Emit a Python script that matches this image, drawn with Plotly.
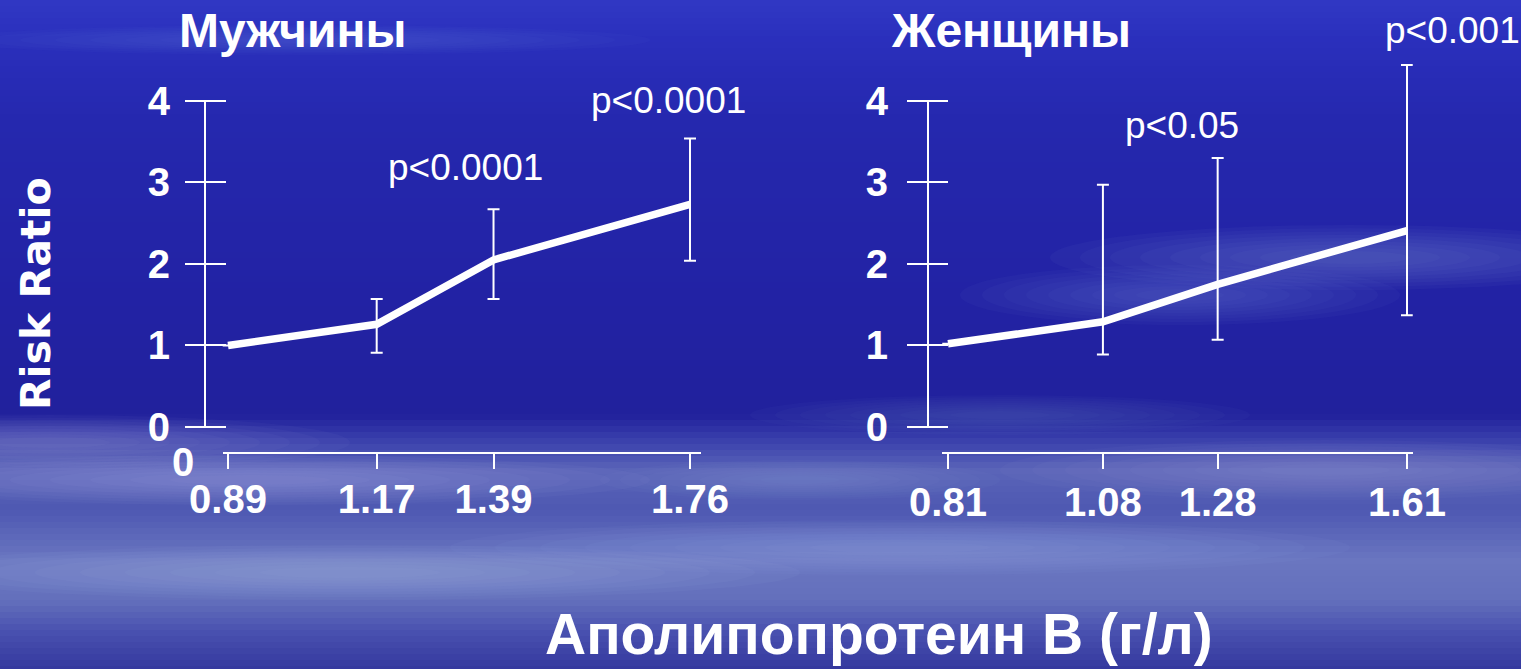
import plotly.graph_objects as go

# ---------------- data ----------------
men_apob = [0.89, 1.17, 1.39, 1.76]
men_rr = [1.0, 1.26, 2.05, 2.73]
men_hi = [None, 1.57, 2.67, 3.54]
men_lo = [None, 0.91, 1.57, 2.04]

women_apob = [0.81, 1.08, 1.28, 1.61]
women_rr = [1.02, 1.29, 1.75, 2.41]
women_hi = [None, 2.97, 3.30, 4.44]
women_lo = [None, 0.89, 1.07, 1.37]

y_ticks = [0, 1, 2, 3, 4]
men_tick_labels = ["0.89", "1.17", "1.39", "1.76"]
women_tick_labels = ["0.81", "1.08", "1.28", "1.61"]

p_men = ["p<0.0001", "p<0.0001"]
p_women = ["p<0.05", "p<0.001"]

# ---------------- geometry helpers ----------------
W, H = 1521, 669
FONT = "Liberation Sans, Arial, sans-serif"


def px(x):
    return x / W


def py(y):
    return 1 - y / H


def up(hi, v):
    return [None if h is None else h - c for h, c in zip(hi, v)]


def down(lo, v):
    return [None if l is None else c - l for l, c in zip(lo, v)]


fig = go.Figure()

err_style = dict(type="data", symmetric=False, color="white", thickness=2, width=6)

fig.add_trace(go.Scatter(
    x=men_apob, y=men_rr, mode="lines", xaxis="x", yaxis="y",
    line=dict(color="white", width=7.5), showlegend=False, hoverinfo="skip",
    error_y=dict(array=up(men_hi, men_rr), arrayminus=down(men_lo, men_rr), **err_style),
))
fig.add_trace(go.Scatter(
    x=women_apob, y=women_rr, mode="lines", xaxis="x2", yaxis="y2",
    line=dict(color="white", width=7.5), showlegend=False, hoverinfo="skip",
    error_y=dict(array=up(women_hi, women_rr), arrayminus=down(women_lo, women_rr), **err_style),
))

# ---------------- background (decorative sky) ----------------
shapes = []


def hex2rgb(h):
    h = h.lstrip("#")
    return [int(h[i:i + 2], 16) for i in (0, 2, 4)]


stops = [(0, "#3038c4"), (40, "#2a2fbc"), (120, "#2528ae"), (300, "#2222a4"),
         (415, "#21219c"), (440, "#3a40ac"), (470, "#5a64b8"), (510, "#4e58b2"),
         (560, "#6a76c0"), (600, "#6470bc"), (630, "#4a52b0"), (669, "#34389e")]
step = 6
for yy in range(0, H, step):
    for (a, ca), (b, cb) in zip(stops[:-1], stops[1:]):
        if a <= yy + step / 2 <= b:
            t = (yy + step / 2 - a) / (b - a)
            r1, r2 = hex2rgb(ca), hex2rgb(cb)
            col = "rgb(%d,%d,%d)" % tuple(round(u + (v - u) * t) for u, v in zip(r1, r2))
            break
    shapes.append(dict(type="rect", xref="paper", yref="paper", x0=0, x1=1,
                       y0=py(yy + step), y1=py(yy), fillcolor=col, line_width=0,
                       layer="below"))

clouds = [
    (-150, 455, 650, 505, "#a8b4e8"),
    (-100, 545, 800, 600, "#b0bcec"),
    (450, 520, 1350, 575, "#a0ace2"),
    (1000, 440, 1650, 500, "#98a4de"),
    (1050, 225, 1650, 290, "#8c98dc"),
    (960, 265, 1400, 325, "#7c88d0"),
    (750, 395, 1250, 435, "#6a76c6"),
    (-50, 25, 650, 55, "#6a72da"),
    (-250, 415, 350, 470, "#9aa6e0"),
    (600, 460, 1000, 500, "#8894d4"),
]
for x0, y0, x1, y1, c in clouds:
    cx, cy = (x0 + x1) / 2, (y0 + y1) / 2
    hw, hh = (x1 - x0) / 2, (y1 - y0) / 2
    for k in range(9):
        f = 1 - k * 0.1
        shapes.append(dict(type="circle", xref="paper", yref="paper",
                           x0=px(cx - hw * f), x1=px(cx + hw * f),
                           y0=py(cy + hh * f), y1=py(cy - hh * f),
                           fillcolor=c, opacity=0.05, line_width=0, layer="below"))

# y-axis spines (drawn only between 0 and 4 as in the original)
shapes.append(dict(type="line", xref="paper", yref="y", x0=px(205), x1=px(205),
                   y0=y_ticks[0], y1=y_ticks[-1], line=dict(color="white", width=2)))
shapes.append(dict(type="line", xref="paper", yref="y2", x0=px(928), x1=px(928),
                   y0=y_ticks[0], y1=y_ticks[-1], line=dict(color="white", width=2)))

# ---------------- axes ----------------
y_lo, y_hi = -0.307, 4.6
y_dom = [py(452), py(52)]

tickfont = dict(family=FONT, size=40, color="white", weight="bold")

men_range = [0.88, 1.78]
women_range = [0.80, 1.62]
men_scale = (690 - 228) / (men_apob[-1] - men_apob[0])
women_scale = (1407 - 948) / (women_apob[-1] - women_apob[0])
men_dom = [px(228 - (men_apob[0] - men_range[0]) * men_scale),
           px(228 + (men_range[1] - men_apob[0]) * men_scale)]
women_dom = [px(948 - (women_apob[0] - women_range[0]) * women_scale),
             px(948 + (women_range[1] - women_apob[0]) * women_scale)]

xcommon = dict(showgrid=False, zeroline=False, showline=True, linecolor="white",
               linewidth=2, ticks="outside", ticklen=15, tickwidth=2, tickcolor="white",
               tickfont=tickfont, automargin=False, fixedrange=True)
ycommon = dict(range=[y_lo, y_hi], domain=y_dom, showgrid=False, zeroline=False,
               showline=False, ticks="outside", ticklen=41, tickwidth=2, tickcolor="white",
               tickvals=y_ticks, ticktext=[str(v) for v in y_ticks], tickfont=tickfont,
               anchor="free", automargin=False, fixedrange=True)

fig.update_layout(
    width=W, height=H,
    margin=dict(l=0, r=0, t=0, b=0, pad=0, autoexpand=False),
    paper_bgcolor="#2323a3",
    plot_bgcolor="rgba(0,0,0,0)",
    showlegend=False,
    shapes=shapes,
    xaxis=dict(domain=men_dom, range=men_range, anchor="y", tickvals=men_apob,
               ticktext=men_tick_labels, ticklabelstandoff=-4, **xcommon),
    xaxis2=dict(domain=women_dom, range=women_range, anchor="y2", tickvals=women_apob,
                ticktext=women_tick_labels, ticklabelstandoff=-1, **xcommon),
    yaxis=dict(position=px(226), ticklabelstandoff=7, **ycommon),
    yaxis2=dict(position=px(948), ticklabelstandoff=11, **ycommon),
)

# ---------------- text ----------------
ann = []


def add_text(text, x, y, size, bold=True, family=FONT, angle=0, xanchor="center",
             yanchor="middle"):
    ann.append(dict(text=text, x=px(x), y=py(y), xref="paper", yref="paper",
                    showarrow=False, xanchor=xanchor, yanchor=yanchor, textangle=angle,
                    font=dict(family=family, size=size, color="white",
                              weight="bold" if bold else "normal")))


add_text("Мужчины", 292, 31, 48)
add_text("Женщины", 1011, 31, 48)
add_text("Risk Ratio", 36, 294, 41, family="DejaVu Sans, Verdana, sans-serif", angle=-90)
add_text("0", 183, 462, 40)
add_text(p_men[0], 465, 167, 37, bold=False)
add_text(p_men[1], 668, 100, 37, bold=False)
add_text(p_women[0], 1182, 126, 37, bold=False)
add_text(p_women[1], 1452, 30, 37, bold=False)
add_text("Аполипопротеин В (г/л)", 879, H - 1, 57, yanchor="bottom")

fig.update_layout(annotations=ann)

fig.write_html("out.html", config={"displayModeBar": False},
               post_script="document.body.style.margin='0';document.body.style.overflow='hidden';")
